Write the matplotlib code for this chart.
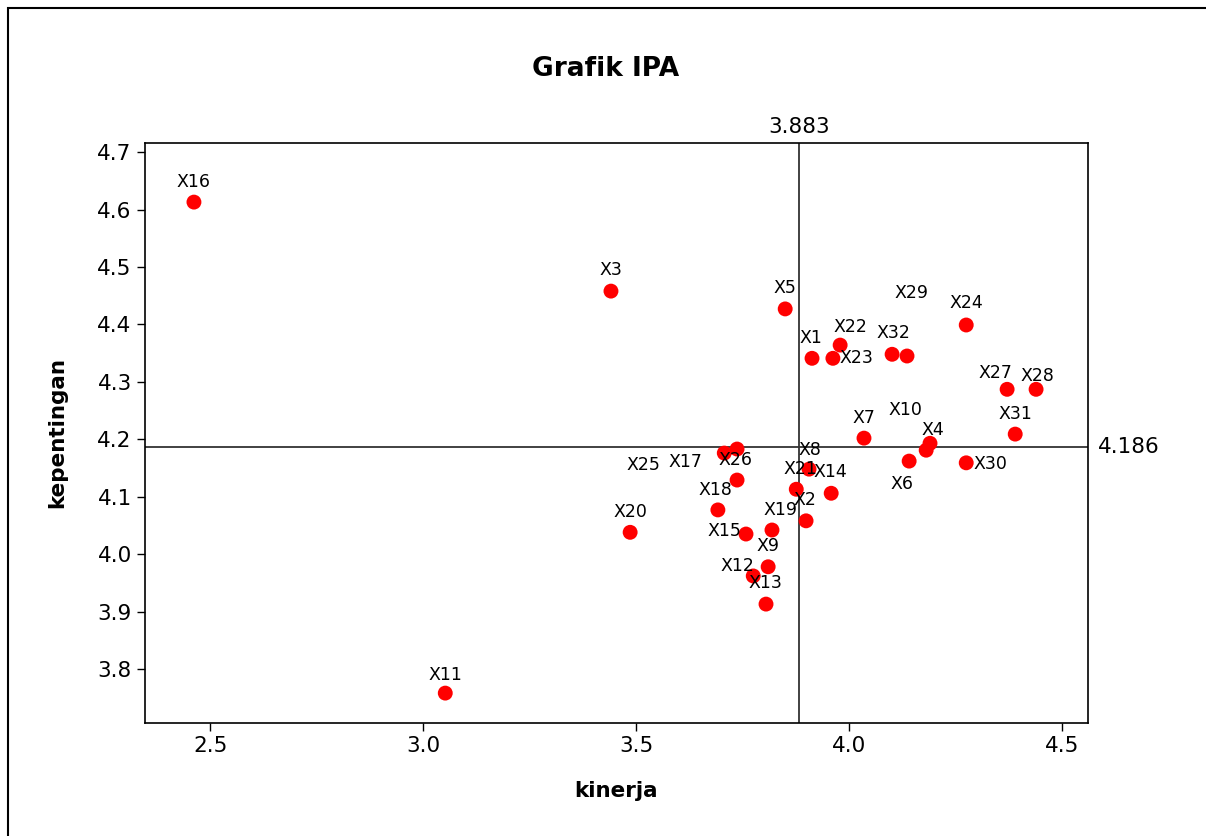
import matplotlib.pyplot as plt
from matplotlib.patches import Rectangle

# data
labels = ['X1', 'X2', 'X3', 'X4', 'X5', 'X6', 'X7', 'X8', 'X9', 'X10',
          'X11', 'X12', 'X13', 'X14', 'X15', 'X16', 'X17', 'X18', 'X19', 'X20',
          'X21', 'X22', 'X23', 'X24', 'X25', 'X26', 'X27', 'X28', 'X29', 'X30',
          'X31', 'X32']
kinerja = [3.913, 3.899, 3.441, 4.190, 3.850, 4.141, 4.035, 3.906, 3.810, 4.181,
           3.052, 3.775, 3.805, 3.958, 3.758, 2.462, 3.737, 3.692, 3.819, 3.486,
           3.876, 3.979, 3.962, 4.275, 3.707, 3.737, 4.371, 4.439, 4.136, 4.275,
           4.390, 4.101]
kepentingan = [4.341, 4.058, 4.458, 4.193, 4.427, 4.162, 4.202, 4.148, 3.978, 4.181,
               3.758, 3.962, 3.913, 4.106, 4.035, 4.613, 4.183, 4.077, 4.042, 4.038,
               4.113, 4.364, 4.341, 4.399, 4.176, 4.129, 4.287, 4.287, 4.345, 4.159,
               4.209, 4.348]
mean_x = 3.883
mean_y = 4.186

# label offsets in pixels (dx, dy) relative to each point
offsets = {
    'X1': (-1, 20), 'X2': (-1, 21), 'X3': (0, 21), 'X4': (3, 13), 'X5': (0, 21),
    'X6': (-7, -23), 'X7': (0, 20), 'X8': (1, 19), 'X9': (0, 21), 'X10': (-21, 40),
    'X11': (0, 18), 'X12': (-16, 10), 'X13': (-1, 21), 'X14': (-1, 21), 'X15': (-22, 3),
    'X16': (0, 20), 'X17': (-52, -13), 'X18': (-2, 20), 'X19': (8, 20), 'X20': (0, 20),
    'X21': (4, 20), 'X22': (10, 18), 'X23': (24, 0), 'X24': (0, 22), 'X25': (-81, -12),
    'X26': (-2, 20), 'X27': (-12, 16), 'X28': (1, 13), 'X29': (4, 63), 'X30': (24, -1),
    'X31': (0, 20), 'X32': (1, 21),
}

fig = plt.figure(figsize=(12.06, 8.36), dpi=100)
fig.patches.append(Rectangle((8 / 1206, -0.01), 1.2, 1 - 8 / 836 + 0.01,
                             transform=fig.transFigure, fill=False,
                             edgecolor='black', linewidth=1.5))
ax = fig.add_axes([0.1202, 0.1352, 0.782, 0.6938])

ax.scatter(kinerja, kepentingan, s=115, color='#ff0000', zorder=3, edgecolors='none')
for name, x, y in zip(labels, kinerja, kepentingan):
    dx, dy = offsets[name]
    ax.annotate(name, (x, y), xytext=(dx, dy), textcoords='offset pixels',
                ha='center', va='center', fontsize=12.5)

ax.axvline(mean_x, color='#333333', linewidth=1.3, zorder=1)
ax.axhline(mean_y, color='#333333', linewidth=1.3, zorder=1)
ax.text(mean_x, 1.01, f'{mean_x:.3f}', transform=ax.get_xaxis_transform(),
        ha='center', va='bottom', fontsize=15.5)
ax.text(1.01, mean_y, f'{mean_y:.3f}', transform=ax.get_yaxis_transform(),
        ha='left', va='center', fontsize=15.5)

ax.set_xlim(2.347, 4.561)
ax.set_ylim(3.706, 4.716)
ax.set_xticks([2.5, 3.0, 3.5, 4.0, 4.5])
ax.set_yticks([3.8, 3.9, 4.0, 4.1, 4.2, 4.3, 4.4, 4.5, 4.6, 4.7])
ax.tick_params(labelsize=15.5, length=6, width=1)
for sp in ax.spines.values():
    sp.set_linewidth(1.2)

ax.set_xlabel('kinerja', fontsize=15.5, fontweight='bold', labelpad=18)
ax.set_ylabel('kepentingan', fontsize=15.5, fontweight='bold', labelpad=22)
fig.text(0.5025, 1 - 69 / 836, 'Grafik IPA', ha='center', va='center',
         fontsize=19, fontweight='bold')

fig.savefig('out.png', dpi=100)
